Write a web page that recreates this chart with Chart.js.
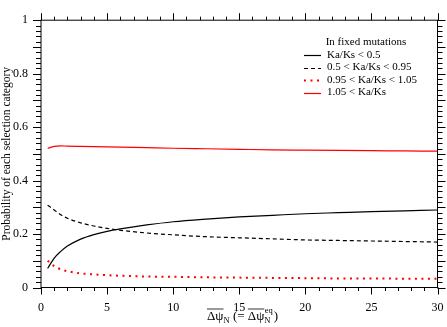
<!doctype html>
<html>
  <head>
    <title>Selection categories</title>
    <script src="https://cdn.jsdelivr.net/npm/chart.js@4.4.1/dist/chart.umd.min.js"></script>
    <style>
      html, body { margin: 0; padding: 0; background: #fff; }
      #wrap { width: 447px; height: 327px; }
    </style>
  </head>
  <body>
    <div id="wrap"><canvas id="chart" width="447" height="327"></canvas></div>
  <script>
    // values
    const xValues = [0.5, 1, 1.5, 2, 3, 4, 5, 6, 8, 10, 12.5, 15, 17.5, 20, 22.5, 25, 27.5, 30];
    const below05 = [0.071, 0.110, 0.135, 0.155, 0.181, 0.198, 0.210, 0.219, 0.234, 0.246, 0.256, 0.264, 0.270, 0.276, 0.280, 0.284, 0.287, 0.290];
    const from05to095 = [0.308, 0.290, 0.272, 0.259, 0.242, 0.230, 0.221, 0.214, 0.204, 0.197, 0.190, 0.186, 0.182, 0.178, 0.176, 0.174, 0.172, 0.170];
    const from095to105 = [0.100, 0.080, 0.068, 0.061, 0.053, 0.049, 0.046, 0.044, 0.041, 0.040, 0.038, 0.037, 0.036, 0.035, 0.034, 0.034, 0.033, 0.033];
    const above105 = [0.521, 0.528, 0.530, 0.529, 0.528, 0.527, 0.526, 0.525, 0.523, 0.521, 0.519, 0.517, 0.515, 0.514, 0.513, 0.512, 0.511, 0.510];

    const seriesLabels = ['Ka/Ks < 0.5', '0.5 < Ka/Ks < 0.95', '0.95 < Ka/Ks < 1.05', '1.05 < Ka/Ks'];
    const legendTitle = 'In fixed mutations';
    const yTitle = 'Probability of each selection category';

    const serif = '"Liberation Serif", "DejaVu Serif", serif';

    const toPoints = (ys) => xValues.map((x, i) => ({ x: x, y: ys[i] }));

    // frame, outward ticks on all four sides, legend and axis titles
    const decorations = {
      id: 'decorations',
      afterDraw(chart) {
        const ctx = chart.ctx;
        const a = chart.chartArea;
        const xs = chart.scales.x;
        const ys = chart.scales.y;
        ctx.save();
        ctx.strokeStyle = '#000';
        ctx.lineWidth = 1;
        ctx.strokeRect(a.left, a.top, a.right - a.left, a.bottom - a.top);

        ctx.beginPath();
        xs.ticks.forEach(t => {
          const p = Math.round(xs.getPixelForValue(t.value)) + 0.5;
          const len = Math.round(t.value) % 5 === 0 ? 7 : 3.5;
          ctx.moveTo(p, a.bottom); ctx.lineTo(p, a.bottom + len);
          ctx.moveTo(p, a.top); ctx.lineTo(p, a.top - len);
        });
        ys.ticks.forEach(t => {
          const p = Math.round(ys.getPixelForValue(t.value)) + 0.5;
          const len = Math.round(t.value * 50) % 5 === 0 ? 8 : 5;
          ctx.moveTo(a.left, p); ctx.lineTo(a.left - len, p);
          ctx.moveTo(a.right, p); ctx.lineTo(a.right + len, p);
        });
        ctx.stroke();

        // legend
        ctx.fillStyle = '#000';
        ctx.font = '11px ' + serif;
        ctx.textBaseline = 'middle';
        ctx.textAlign = 'center';
        ctx.fillText(legendTitle, 366, 42);
        ctx.textAlign = 'left';
        chart.data.datasets.forEach((ds, i) => {
          const y = 55 + i * 12.5;
          ctx.save();
          ctx.strokeStyle = ds.borderColor;
          ctx.lineWidth = ds.borderWidth;
          ctx.setLineDash(ds.borderDash || []);
          ctx.beginPath();
          ctx.moveTo(304, Math.round(y) + 0.5);
          ctx.lineTo(321, Math.round(y) + 0.5);
          ctx.stroke();
          ctx.restore();
          ctx.fillText(ds.label, 327, y);
        });

        // y axis title
        ctx.save();
        ctx.translate(7, (a.top + a.bottom) / 2);
        ctx.rotate(-Math.PI / 2);
        ctx.textAlign = 'center';
        ctx.font = '11.5px ' + serif;
        ctx.fillText(yTitle, 0, 0);
        ctx.restore();

        // x axis title: overline(Δψ)_N (= overline(Δψ)_N^eq)
        const base = 320;
        const big = '13px ' + serif;
        const small = '8.5px ' + serif;
        ctx.textBaseline = 'alphabetic';
        ctx.textAlign = 'left';
        let x = 207;
        const overlined = (txt) => {
          ctx.font = big;
          const w = ctx.measureText(txt).width;
          ctx.fillText(txt, x, base);
          ctx.beginPath();
          ctx.lineWidth = 0.8;
          ctx.moveTo(x, base - 11);
          ctx.lineTo(x + w, base - 11);
          ctx.stroke();
          x += w;
        };
        overlined('\u0394\u03C8');
        ctx.font = small;
        ctx.fillText('N', x, base + 2.5);
        x += ctx.measureText('N').width;
        ctx.font = big;
        ctx.fillText(' (= ', x, base);
        x += ctx.measureText(' (= ').width;
        overlined('\u0394\u03C8');
        ctx.font = small;
        ctx.fillText('eq', x + 0.5, base - 7);
        ctx.fillText('N', x, base + 2.5);
        x += ctx.measureText('eq').width + 1.5;
        ctx.font = big;
        ctx.fillText(')', x, base);
        ctx.restore();
      }
    };

    new Chart(document.getElementById('chart').getContext('2d'), {
      type: 'line',
      data: {
        datasets: [{
          label: seriesLabels[0],
          data: toPoints(below05),
          borderColor: '#000',
          borderWidth: 1.2,
        }, {
          label: seriesLabels[1],
          data: toPoints(from05to095),
          borderColor: '#000',
          borderWidth: 1.2,
          borderDash: [4, 3],
        }, {
          label: seriesLabels[2],
          data: toPoints(from095to105),
          borderColor: '#ff0000',
          borderWidth: 2,
          borderDash: [2, 4.5],
        }, {
          label: seriesLabels[3],
          data: toPoints(above105),
          borderColor: '#ff0000',
          borderWidth: 1.2,
        }]
      },
      options: {
        responsive: false,
        animation: false,
        layout: { padding: { left: 0, top: 9, right: 9.5, bottom: 0 } },
        elements: {
          point: { radius: 0 },
          line: { cubicInterpolationMode: 'monotone', fill: false }
        },
        plugins: {
          legend: { display: false },
          tooltip: { enabled: false }
        },
        scales: {
          x: {
            type: 'linear',
            min: 0,
            max: 30,
            grid: { display: false, drawTicks: false },
            border: { display: false },
            afterFit: (s) => { s.height = 39.5; s.paddingRight = 0; },
            ticks: {
              stepSize: 1,
              autoSkip: false,
              maxRotation: 0,
              padding: 13,
              color: '#000',
              font: { family: serif, size: 12 },
              callback: (v) => (v % 5 === 0 ? String(v) : '')
            }
          },
          y: {
            type: 'linear',
            min: 0,
            max: 1,
            grid: { display: false, drawTicks: false },
            border: { display: false },
            afterFit: (s) => { s.width = 41; },
            ticks: {
              stepSize: 0.02,
              autoSkip: false,
              padding: 13,
              color: '#000',
              font: { family: serif, size: 12 },
              callback: (v) => (Math.round(v * 50) % 10 === 0 ? String(Math.round(v * 10) / 10) : '')
            }
          }
        }
      },
      plugins: [decorations]
    });
  </script>
  </body>
</html>
